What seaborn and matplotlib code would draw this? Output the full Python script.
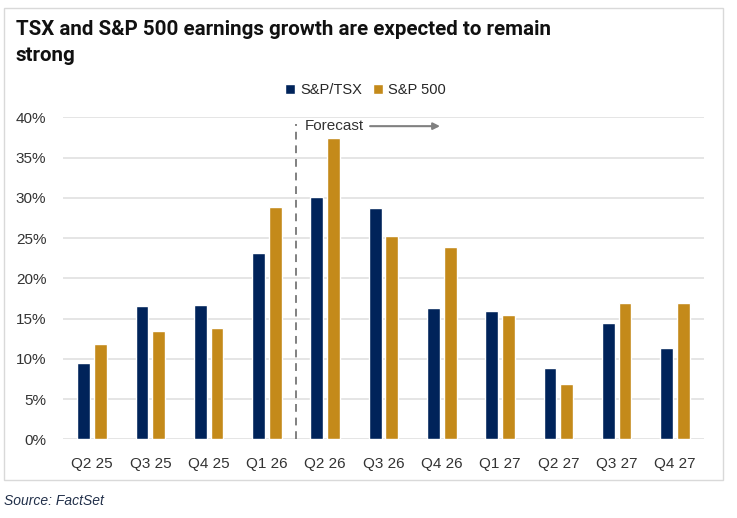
import pandas as pd
import matplotlib
import matplotlib.pyplot as plt
import seaborn as sns
from matplotlib.patches import Rectangle

matplotlib.use('Agg')

# Quarterly earnings growth (%)
quarters = ['Q2 25', 'Q3 25', 'Q4 25', 'Q1 26', 'Q2 26', 'Q3 26',
            'Q4 26', 'Q1 27', 'Q2 27', 'Q3 27', 'Q4 27']
tsx = [9.5, 16.6, 16.7, 23.1, 30.1, 28.7, 16.3, 15.9, 8.9, 14.4, 11.3]
spx = [11.9, 13.5, 13.8, 28.9, 37.4, 25.3, 23.9, 15.5, 6.9, 16.9, 16.9]
series = ['S&P/TSX', 'S&P 500']
colors = ['#00235A', '#C48A1A']
yticks = [0, 5, 10, 15, 20, 25, 30, 35, 40]

df = pd.DataFrame({
    'quarter': quarters * 2,
    'growth': tsx + spx,
    'index': [series[0]] * len(quarters) + [series[1]] * len(quarters),
})

sns.set_style('white')
plt.rcParams['font.family'] = ['Liberation Sans', 'DejaVu Sans']

fig = plt.figure(figsize=(7.37, 5.18), dpi=100)
ax = fig.add_axes([63 / 737, 1 - 439.3 / 518, 641 / 737, 322 / 518])

sns.barplot(data=df, x='quarter', y='growth', hue='index', palette=colors,
            width=0.572, gap=0.23, ax=ax, saturation=1, zorder=3)

ax.set_xlim(-0.5, len(quarters) - 0.5)
ax.set_ylim(0, 40)
ax.set_yticks(yticks)
ax.set_yticklabels([f'{t}%' for t in yticks])
ax.set_xlabel('')
ax.set_ylabel('')
ax.grid(axis='y', color='#e0e0e0', linewidth=1.2, zorder=0)
ax.set_axisbelow(True)
for s in ax.spines.values():
    s.set_visible(False)
ax.tick_params(axis='both', length=0, labelsize=11, labelcolor='#333333')
ax.tick_params(axis='y', pad=12)
ax.tick_params(axis='x', pad=13)

# forecast marker
ax.plot([3.5, 3.5], [0, 39.2], color='#808080', linestyle=(0, (4, 3)),
        linewidth=1.4, zorder=4, clip_on=False)
ax.text(3.65, 38.9, 'Forecast', fontsize=11, color='#333333', va='center', ha='left')
ax.annotate('', xy=(5.97, 38.9), xytext=(4.77, 38.9),
            arrowprops=dict(arrowstyle='-|>', color='#808080', lw=1.5,
                            mutation_scale=10, shrinkA=0, shrinkB=0))

sns.move_legend(ax, 'center', bbox_to_anchor=(365.5 / 737, 1 - 90 / 518),
                bbox_transform=fig.transFigure, ncol=2, frameon=False, title=None,
                fontsize=10.5, handlelength=0.7, handleheight=0.7,
                handletextpad=0.35, columnspacing=0.75)

fig.text(16 / 737, 1 - 20 / 518,
         'TSX and S&P 500 earnings growth are expected to remain\nstrong',
         family=['Roboto', 'DejaVu Sans'], fontweight='bold',
         fontsize=14.8, color='#111111', va='top', ha='left', linespacing=1.45)

fig.patches.append(Rectangle((4 / 737, 1 - 480 / 518), 719 / 737, 472 / 518,
                             transform=fig.transFigure, fill=False,
                             edgecolor='#d9d9d9', linewidth=1))

fig.text(4 / 737, 1 - 501 / 518, 'Source: FactSet', fontsize=10, style='italic',
         color='#22304A', va='center', ha='left')

fig.savefig('out.png', dpi=100)
